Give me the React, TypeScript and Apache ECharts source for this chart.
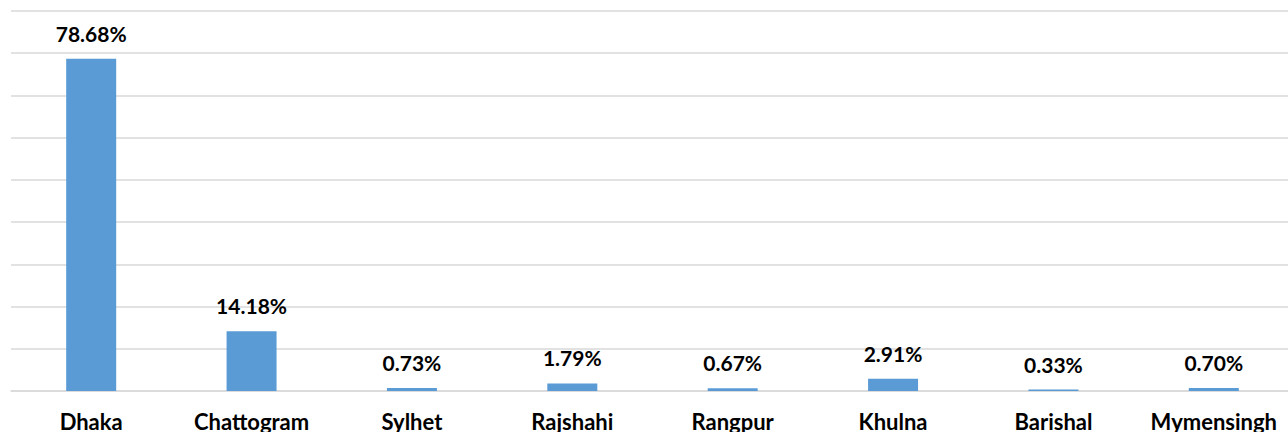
import React, { useEffect, useRef } from "react";
import * as echarts from "echarts";

const categories = ["Dhaka", "Chattogram", "Sylhet", "Rajshahi", "Rangpur", "Khulna", "Barishal", "Mymensingh"];
const shares = [78.68, 14.18, 0.73, 1.79, 0.67, 2.91, 0.33, 0.7];

export default function App() {
  const ref = useRef<HTMLDivElement>(null);
  useEffect(() => {
    if (!ref.current) return;
    const chart = echarts.init(ref.current, null, { renderer: "svg" });
    chart.setOption({
      animation: false,
      backgroundColor: "#ffffff",
      grid: { left: 11, top: 11, width: 1283, height: 380, containLabel: false },
      xAxis: {
        type: "category",
        data: categories,
        axisLine: { show: true, lineStyle: { color: "#d9d9d9", width: 1.5 } },
        axisTick: { show: false },
        axisLabel: {
          interval: 0,
          hideOverlap: false,
          color: "#000000",
          fontFamily: "Lato",
          fontWeight: "bold",
          fontSize: 22,
          margin: 19,
        },
      },
      yAxis: {
        type: "value",
        min: 0,
        max: 90,
        interval: 10,
        axisLabel: { show: false },
        axisLine: { show: false },
        axisTick: { show: false },
        splitLine: { show: true, lineStyle: { color: "#d9d9d9", width: 1.5 } },
      },
      series: [
        {
          type: "bar",
          data: shares,
          barWidth: 50,
          itemStyle: { color: "#5b9bd5" },
          label: {
            show: true,
            position: "top",
            distance: 15,
            color: "#000000",
            fontFamily: "Lato",
            fontWeight: "bold",
            fontSize: 21,
            formatter: (p: any) => p.value.toFixed(2) + "%",
          },
        },
      ],
    });
    return () => chart.dispose();
  }, []);
  return (
    <div style={{ position: "absolute", left: 0, top: 0, width: 1288, height: 432, overflow: "hidden", background: "#fff" }}>
      <div ref={ref} style={{ width: 1300, height: 432 }} />
    </div>
  );
}
